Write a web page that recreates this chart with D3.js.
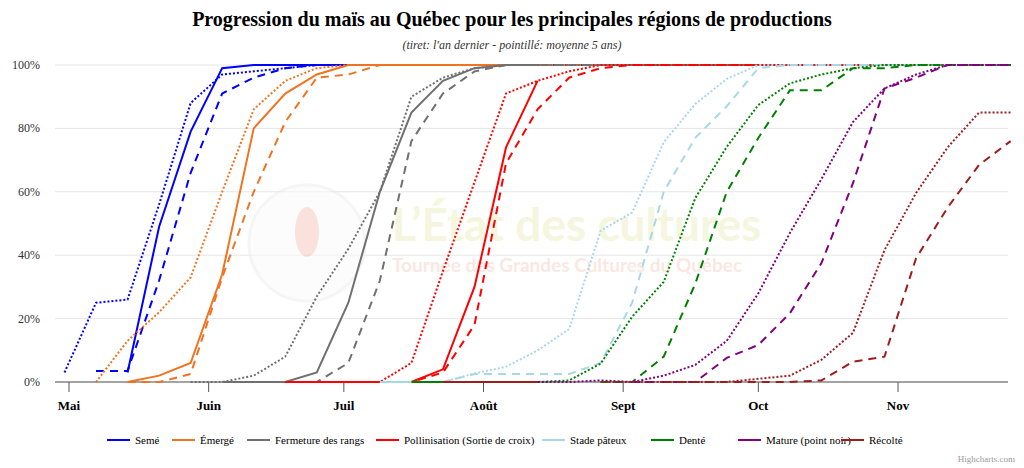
<!DOCTYPE html>
<html><head><meta charset="utf-8">
<script src="https://cdn.jsdelivr.net/npm/d3@7"></script>
<style>body{margin:0;background:#fff}svg{font-family:"Liberation Serif","Times New Roman",serif}</style>
</head><body>
<svg id="chart" width="1024" height="468"></svg>
<script>
const weeks = ["2023-04-30","2023-05-07","2023-05-14","2023-05-21","2023-05-28","2023-06-04","2023-06-11","2023-06-18","2023-06-25","2023-07-02","2023-07-09","2023-07-16","2023-07-23","2023-07-30","2023-08-06","2023-08-13","2023-08-20","2023-08-27","2023-09-03","2023-09-10","2023-09-17","2023-09-24","2023-10-01","2023-10-08","2023-10-15","2023-10-22","2023-10-29","2023-11-05","2023-11-12","2023-11-19","2023-11-26"];
const N = null;
const stages = ["Semé","Émergé","Fermeture des rangs","Pollinisation (Sortie de croix)","Stade pâteux","Denté","Mature (point noir)","Récolté"];
const colors = ["#0000ff","#f07320","#707070","#ff0000","#a8d8e8","#008000","#800080","#a01c1c"];
// current year (solid), ends at Aug 13
const current = [
  [N,N,3,49,79,99,100,100,100,100,100,100,100,100,100,100],
  [N,N,0,2,6,34,80,91,97,100,100,100,100,100,100,100],
  [N,N,N,N,N,0,0,0,3,25,60,85,95,99,100,100],
  [N,N,N,N,N,N,N,0,0,0,0,0,4,30,74,95],
  [N,N,N,N,N,N,N,N,N,N,0,0,0,0,0,0],
  [N,N,N,N,N,N,N,N,N,N,N,0,0,0,0,0],
  [N,N,N,N,N,N,N,N,N,N,N,N,0,0,0,0],
  [N,N,N,N,N,N,N,N,N,N,N,N,0,0,0,0]
];
// last year (dashed)
const lastYear = [
  [N,3.5,3.5,32,66,91,96,99,100,100,100,100,100,100,100,100,100,100,100,100,100,100,100,100,100,100,100,100,100,100,100],
  [N,N,0,0,2.5,33,60,82,96,97,100,100,100,100,100,100,100,100,100,100,100,100,100,100,100,100,100,100,100,100,100],
  [N,N,N,N,N,N,N,0,0,6,32,76,91,98,100,100,100,100,100,100,100,100,100,100,100,100,100,100,100,100,100],
  [N,N,N,N,N,N,N,N,N,0,0,0,3,18,69,86,96,99,100,100,100,100,100,100,100,100,100,100,100,100,100],
  [N,N,N,N,N,N,N,N,N,N,N,N,0,2.5,2.5,2.5,2.5,6,25,60,77,87,99,100,100,100,100,100,100,100,100],
  [N,N,N,N,N,N,N,N,N,N,N,N,N,N,N,N,N,0,0,8,31,60,77,92,92,99,99,100,100,100,100],
  [N,N,N,N,N,N,N,N,N,N,N,N,N,N,N,N,N,N,0,0,0,7.6,11.7,21.7,37.5,62.7,92.6,96,100,100,100],
  [N,N,N,N,N,N,N,N,N,N,N,N,N,N,N,N,N,N,N,0,0,0,0,0,0.5,6.4,8,39,55,68.5,76]
];
// 5-year average (dotted)
const fiveYear = [
  [3,25,26,56,88,97,98,99,100,100,100,100,100,100,100,100,100,100,100,100,100,100,100,100,100,100,100,100,100,100,100],
  [N,0,13,22,33,60,86,95,99,100,100,100,100,100,100,100,100,100,100,100,100,100,100,100,100,100,100,100,100,100,100],
  [N,N,N,N,0,0,2,8,27,42,60,90,96,99,100,100,100,100,100,100,100,100,100,100,100,100,100,100,100,100,100],
  [N,N,N,N,N,N,N,0,0,0,0,6,35,63,91,95,98,100,100,100,100,100,100,100,100,100,100,100,100,100,100],
  [N,N,N,N,N,N,N,N,N,N,N,0,0,2.7,4.8,10,16.7,47.7,53.5,75.6,87.7,95.6,100,100,100,100,100,100,100,100,100],
  [N,N,N,N,N,N,N,N,N,N,N,N,N,0,0,0,0.5,5.8,20.6,31.6,58,74.2,87.4,94.2,97,99,100,100,100,100,100],
  [N,N,N,N,N,N,N,N,N,N,N,N,N,N,N,0,0,0.5,0,2,5.4,13,28,47,64,82,92.6,97,100,100,100],
  [N,N,N,N,N,N,N,N,N,N,N,N,N,N,N,N,N,0,0,0,0,0,1,2,7,15.5,41.6,59.6,74,85,85]
];
const months = ["2023-05-01","2023-06-01","2023-07-01","2023-08-01","2023-09-01","2023-10-01","2023-11-01"];
const monthLabels = ["Mai","Juin","Juil","Août","Sept","Oct","Nov"];
const yTicks = [0,20,40,60,80,100];

const svg = d3.select("#chart");
const parse = d3.timeParse("%Y-%m-%d");
const x = d3.scaleTime().domain([parse("2023-05-01"), parse("2023-11-01")]).range([69, 898]);
const y = d3.scaleLinear().domain([0,100]).range([382,65]);
const left = 55, right = 1008;

svg.append("text").attr("x",512).attr("y",26).attr("text-anchor","middle")
  .attr("font-size",20).attr("font-weight","bold").text("Progression du maïs au Québec pour les principales régions de productions");
svg.append("text").attr("x",512).attr("y",49).attr("text-anchor","middle")
  .attr("font-size",12).attr("font-style","italic").attr("fill","#333").text("(tiret: l'an dernier - pointillé: moyenne 5 ans)");

// grid + y labels
svg.selectAll(".grid").data(yTicks).enter().append("line")
  .attr("x1",left).attr("x2",right).attr("y1",d=>y(d)).attr("y2",d=>y(d))
  .attr("stroke","#e6e6e6");
svg.selectAll(".ylab").data(yTicks).enter().append("text")
  .attr("x",40).attr("y",d=>y(d)+4).attr("text-anchor","end").attr("font-size",12).attr("fill","#333")
  .text(d=>d+"%");

// watermark
const wm = svg.append("g").attr("opacity",0.55);
wm.append("circle").attr("cx",307).attr("cy",243).attr("r",58).attr("fill","#fbfbfb").attr("stroke","#eee").attr("stroke-width",3);
wm.append("ellipse").attr("cx",307).attr("cy",232).attr("rx",12).attr("ry",25).attr("fill","#f6c9c0");
wm.append("text").attr("x",392).attr("y",241).attr("font-family","Lato, sans-serif").attr("font-size",46).attr("font-weight","bold").attr("fill","#eef0c4").text("L’État des cultures");
wm.append("text").attr("x",392).attr("y",272).attr("font-family","Lato, sans-serif").attr("font-size",19).attr("font-weight","bold").attr("fill","#f9d5cc").text("Tournée des Grandes Cultures du Québec");

// x axis
const xAxis = svg.append("g").attr("transform","translate(0,382)");
xAxis.append("line").attr("x1",left).attr("x2",right).attr("stroke","#555").attr("stroke-width",1);
months.forEach((m,i)=>{
  const px = x(parse(m));
  xAxis.append("line").attr("x1",px).attr("x2",px).attr("y1",0).attr("y2",10).attr("stroke","#555");
  xAxis.append("text").attr("x",px).attr("y",28).attr("text-anchor","middle").attr("font-size",13).attr("font-weight","bold").text(monthLabels[i]);
});

const line = d3.line().defined(d=>d.v!==null).x(d=>x(d.t)).y(d=>y(d.v));
const styles = [{data:fiveYear,dash:"2,2",w:2},{data:lastYear,dash:"8,6",w:2},{data:current,dash:null,w:2}];
const g = svg.append("g");
stages.forEach((s,i)=>{
  styles.forEach(st=>{
    const pts = st.data[i].map((v,k)=>({t:parse(weeks[k]),v:v}));
    g.append("path").datum(pts).attr("d",line).attr("fill","none")
      .attr("stroke",colors[i]).attr("stroke-width",st.w)
      .attr("stroke-dasharray",st.dash);
  });
});

// legend
const legX = [107,172,247,376,542,651,738,841];
const leg = svg.selectAll(".leg").data(stages).enter().append("g").attr("transform",(d,i)=>`translate(${legX[i]},440)`);
leg.append("line").attr("x1",0).attr("x2",23).attr("stroke",(d,i)=>colors[i]).attr("stroke-width",2);
leg.append("text").attr("x",28).attr("y",4).attr("font-size",11).text(d=>d);

svg.append("text").attr("x",1015).attr("y",462).attr("text-anchor","end").attr("font-size",9).attr("fill","#999").text("Highcharts.com");
</script>
</body></html>
